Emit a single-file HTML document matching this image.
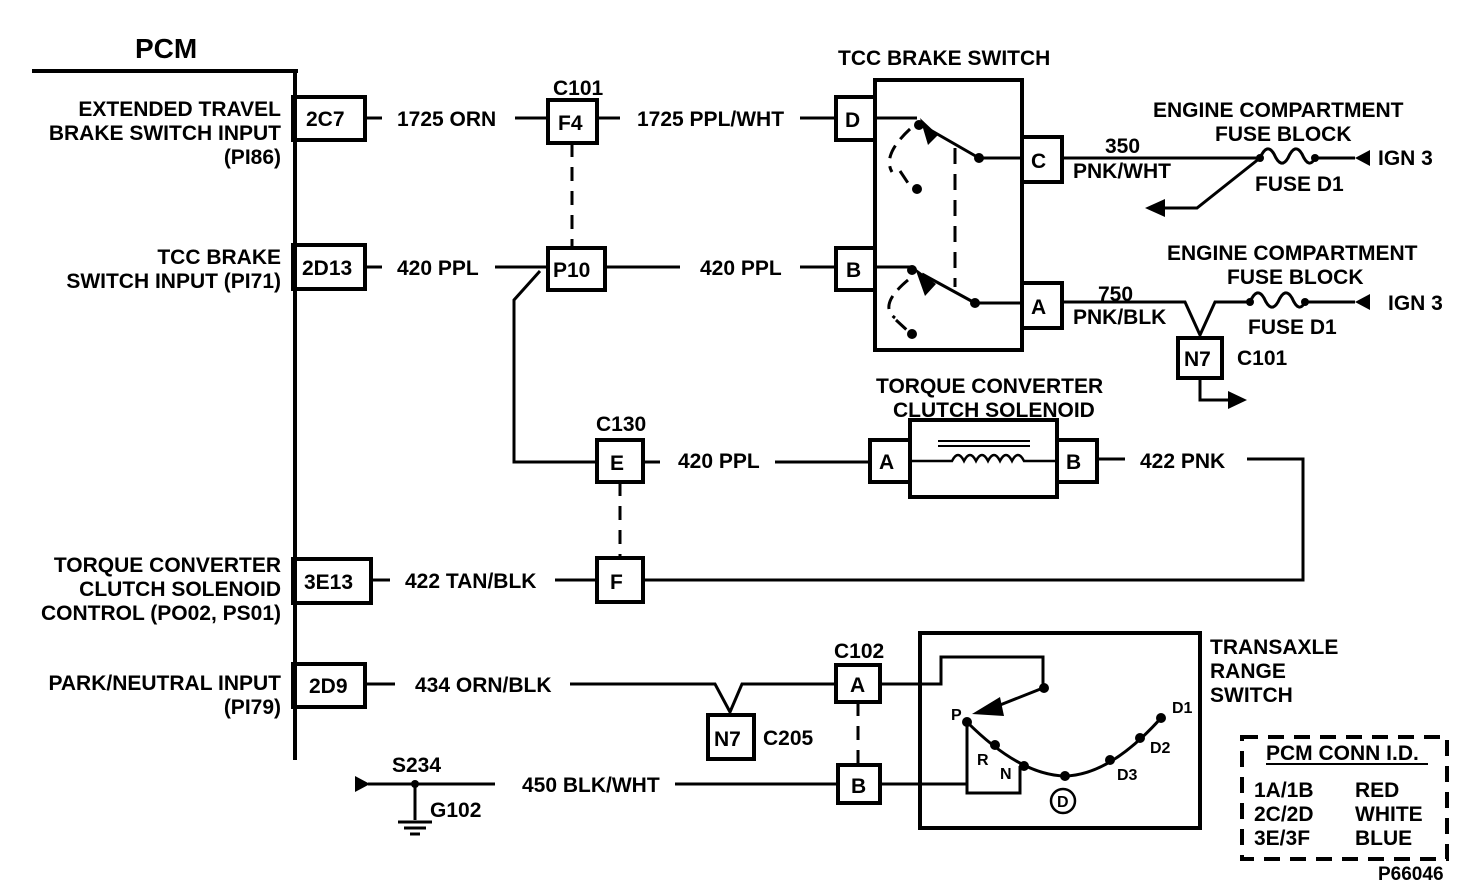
<!DOCTYPE html>
<html><head><style>
html,body{margin:0;padding:0;background:#fff;}
svg{display:block;}
text{font-family:"Liberation Sans",sans-serif;font-weight:bold;fill:#000;}
</style></head><body>
<svg width="1472" height="892" viewBox="0 0 1472 892" xmlns="http://www.w3.org/2000/svg">
<g fill="none" stroke="#000" stroke-width="3">
<line x1="32" y1="71" x2="298" y2="71" stroke-width="4"/>
<line x1="295" y1="71" x2="295" y2="760" stroke-width="4"/>
<rect x="293" y="97" width="72" height="43" stroke-width="4"/>
<rect x="293" y="245" width="72" height="44" stroke-width="4"/>
<rect x="293" y="559" width="78" height="44" stroke-width="4"/>
<rect x="293" y="664" width="72" height="43" stroke-width="4"/>
<path d="M365 118H382M515 118H548M597 118H620M800 118H836"/>
<rect x="548" y="100" width="49" height="43" stroke-width="4"/>
<line x1="572" y1="143" x2="572" y2="248" stroke-dasharray="14,10"/>
<rect x="836" y="97" width="39" height="43" stroke-width="4"/>
<path d="M365 267H382M495 267H548M605 267H680M800 267H836"/>
<rect x="548" y="248" width="57" height="42" stroke-width="4"/>
<rect x="836" y="248" width="39" height="42" stroke-width="4"/>
<path d="M540 271L514 300V462H597"/>
<rect x="597" y="440" width="46" height="42" stroke-width="4"/>
<line x1="620" y1="482" x2="620" y2="558" stroke-dasharray="14,10"/>
<rect x="597" y="558" width="46" height="44" stroke-width="4"/>
<path d="M643 462H660M775 462H870M1097 459H1125M1247 459H1303V580H643"/>
<path d="M371 580H390M555 580H597"/>
<rect x="870" y="440" width="40" height="42" stroke-width="4"/>
<rect x="910" y="420" width="147" height="77" stroke-width="4"/>
<rect x="1057" y="440" width="40" height="42" stroke-width="4"/>
<line x1="938" y1="441" x2="1030" y2="441" stroke-width="2"/>
<line x1="938" y1="446" x2="1030" y2="446" stroke-width="2"/>
<path d="M910 461H952 q6 -12 12 0 q6 -12 12 0 q6 -12 12 0 q6 -12 12 0 q6 -12 12 0 q6 -12 12 0H1057" stroke-width="2.5"/>
<rect x="875" y="80" width="147" height="270" stroke-width="4"/>
<rect x="1022" y="137" width="40" height="45" stroke-width="4"/>
<rect x="1022" y="283" width="40" height="45" stroke-width="4"/>
<path d="M875 118H917M979 158H1022M875 267H912M975 303H1022"/>
<path d="M979 158L925 127M975 303L922 274"/>
<line x1="955" y1="148" x2="955" y2="287" stroke-dasharray="16,10"/>
<path d="M910 129 Q882 155 892 172 M900 171L912 189" stroke-dasharray="14,8"/>
<path d="M908 280 Q878 305 895 318 M896 320L910 333" stroke-dasharray="14,8"/>
<path d="M1062 158H1260M1315 158H1355"/>
<path d="M1260 158 q7 -16 14 -4 q7 16 14 4 q7 -16 14 -4 q7 16 13 4"/>
<path d="M1260 158L1197 208H1165"/>
<path d="M1062 302H1185L1200 335L1215 302H1250M1305 302H1355"/>
<path d="M1250 302 q7 -16 14 -4 q7 16 14 4 q7 -16 14 -4 q7 16 13 4"/>
<rect x="1178" y="338" width="44" height="40" stroke-width="4"/>
<path d="M1200 378V400H1228"/>
<path d="M365 684H395M570 684H715L730 712L742 684H836M880 684H941V657H1043V688"/>
<rect x="708" y="715" width="46" height="44" stroke-width="4"/>
<rect x="836" y="665" width="44" height="37" stroke-width="4"/>
<line x1="858" y1="702" x2="858" y2="765" stroke-dasharray="14,10"/>
<rect x="838" y="765" width="42" height="38" stroke-width="4"/>
<path d="M675 784H838M880 784H968"/>
<rect x="920" y="633" width="280" height="195" stroke-width="4"/>
<path d="M1043 688L995 707"/>
<path d="M967 722V793H1020V766"/>
<path d="M967 722 Q1020 775 1065 776 Q1110 775 1161 718" stroke-width="3"/>
<circle cx="1063" cy="801" r="12" stroke-width="2.5"/>
<path d="M368 784H495M415 784V820M398 822H432M404 828H426M410 834H420"/>
<rect x="1242" y="737" width="205" height="122" stroke-dasharray="16,10" stroke-width="4"/>
<line x1="1266" y1="764" x2="1428" y2="764" stroke-width="2"/>
</g>
<g fill="#000">
<polygon points="972,714 1000,697 1004,716"/>
<polygon points="920,118 928,145 938,135"/>
<polygon points="915,268 925,296 936,284"/>
<circle cx="919" cy="125" r="5"/><circle cx="917" cy="189" r="5"/><circle cx="979" cy="158" r="5"/>
<circle cx="912" cy="270" r="5"/><circle cx="912" cy="334" r="5"/><circle cx="975" cy="303" r="5"/>
<circle cx="1260" cy="158" r="4"/><circle cx="1315" cy="158" r="4"/>
<circle cx="1250" cy="302" r="4"/><circle cx="1305" cy="302" r="4"/>
<polygon points="1355,158 1370,150 1370,166"/>
<polygon points="1355,302 1370,294 1370,310"/>
<polygon points="1145,208 1165,199 1165,217"/>
<polygon points="1247,400 1228,391 1228,409"/>
<polygon points="370,784 355,776 355,792"/>
<circle cx="415" cy="784" r="4"/>
<circle cx="1044" cy="688" r="5"/><circle cx="967" cy="722" r="5"/><circle cx="995" cy="745" r="5"/>
<circle cx="1024" cy="766" r="5"/><circle cx="1065" cy="776" r="5"/><circle cx="1110" cy="760" r="5"/>
<circle cx="1140" cy="738" r="5"/><circle cx="1161" cy="718" r="5"/>
</g>
<text x="135" y="58" font-size="28">PCM</text>
<g font-size="21" text-anchor="end">
<text x="281" y="116">EXTENDED TRAVEL</text>
<text x="281" y="140">BRAKE SWITCH INPUT</text>
<text x="281" y="164">(PI86)</text>
<text x="281" y="264">TCC BRAKE</text>
<text x="281" y="288">SWITCH INPUT (PI71)</text>
<text x="281" y="572">TORQUE CONVERTER</text>
<text x="281" y="596">CLUTCH SOLENOID</text>
<text x="281" y="620">CONTROL (PO02, PS01)</text>
<text x="281" y="690">PARK/NEUTRAL INPUT</text>
<text x="281" y="714">(PI79)</text>
</g>
<g font-size="21">
<text x="306" y="126">2C7</text>
<text x="302" y="275">2D13</text>
<text x="304" y="589">3E13</text>
<text x="309" y="693">2D9</text>
<text x="397" y="126">1725 ORN</text>
<text x="558" y="130">F4</text>
<text x="553" y="95">C101</text>
<text x="637" y="126">1725 PPL/WHT</text>
<text x="845" y="127">D</text>
<text x="397" y="275">420 PPL</text>
<text x="553" y="277">P10</text>
<text x="700" y="275">420 PPL</text>
<text x="846" y="277">B</text>
<text x="838" y="65">TCC BRAKE SWITCH</text>
<text x="1031" y="168">C</text>
<text x="1031" y="314">A</text>
<text x="1105" y="153">350</text>
<text x="1073" y="178">PNK/WHT</text>
<text x="1098" y="301">750</text>
<text x="1073" y="324">PNK/BLK</text>
<text x="1153" y="117">ENGINE COMPARTMENT</text>
<text x="1215" y="141">FUSE BLOCK</text>
<text x="1255" y="191">FUSE D1</text>
<text x="1378" y="165">IGN 3</text>
<text x="1167" y="260">ENGINE COMPARTMENT</text>
<text x="1227" y="284">FUSE BLOCK</text>
<text x="1248" y="334">FUSE D1</text>
<text x="1388" y="310">IGN 3</text>
<text x="1184" y="366">N7</text>
<text x="1237" y="365">C101</text>
<text x="876" y="393">TORQUE CONVERTER</text>
<text x="893" y="417">CLUTCH SOLENOID</text>
<text x="596" y="431">C130</text>
<text x="610" y="470">E</text>
<text x="678" y="468">420 PPL</text>
<text x="879" y="469">A</text>
<text x="1066" y="469">B</text>
<text x="1140" y="468">422 PNK</text>
<text x="610" y="589">F</text>
<text x="405" y="588">422 TAN/BLK</text>
<text x="415" y="692">434 ORN/BLK</text>
<text x="714" y="746">N7</text>
<text x="763" y="745">C205</text>
<text x="834" y="658">C102</text>
<text x="850" y="692">A</text>
<text x="851" y="793">B</text>
<text x="1210" y="654">TRANSAXLE</text>
<text x="1210" y="678">RANGE</text>
<text x="1210" y="702">SWITCH</text>
<text x="522" y="792">450 BLK/WHT</text>
<text x="392" y="772">S234</text>
<text x="430" y="817">G102</text>
<text x="1266" y="760">PCM CONN I.D.</text>
<text x="1254" y="797">1A/1B</text><text x="1355" y="797">RED</text>
<text x="1254" y="821">2C/2D</text><text x="1355" y="821">WHITE</text>
<text x="1254" y="845">3E/3F</text><text x="1355" y="845">BLUE</text>
<text x="1378" y="880" font-size="19">P66046</text>
</g>
<g font-size="16">
<text x="951" y="720">P</text>
<text x="977" y="765">R</text>
<text x="1000" y="779">N</text>
<text x="1057" y="807">D</text>
<text x="1117" y="780">D3</text>
<text x="1150" y="753">D2</text>
<text x="1172" y="713">D1</text>
</g>
</svg>
</body></html>
